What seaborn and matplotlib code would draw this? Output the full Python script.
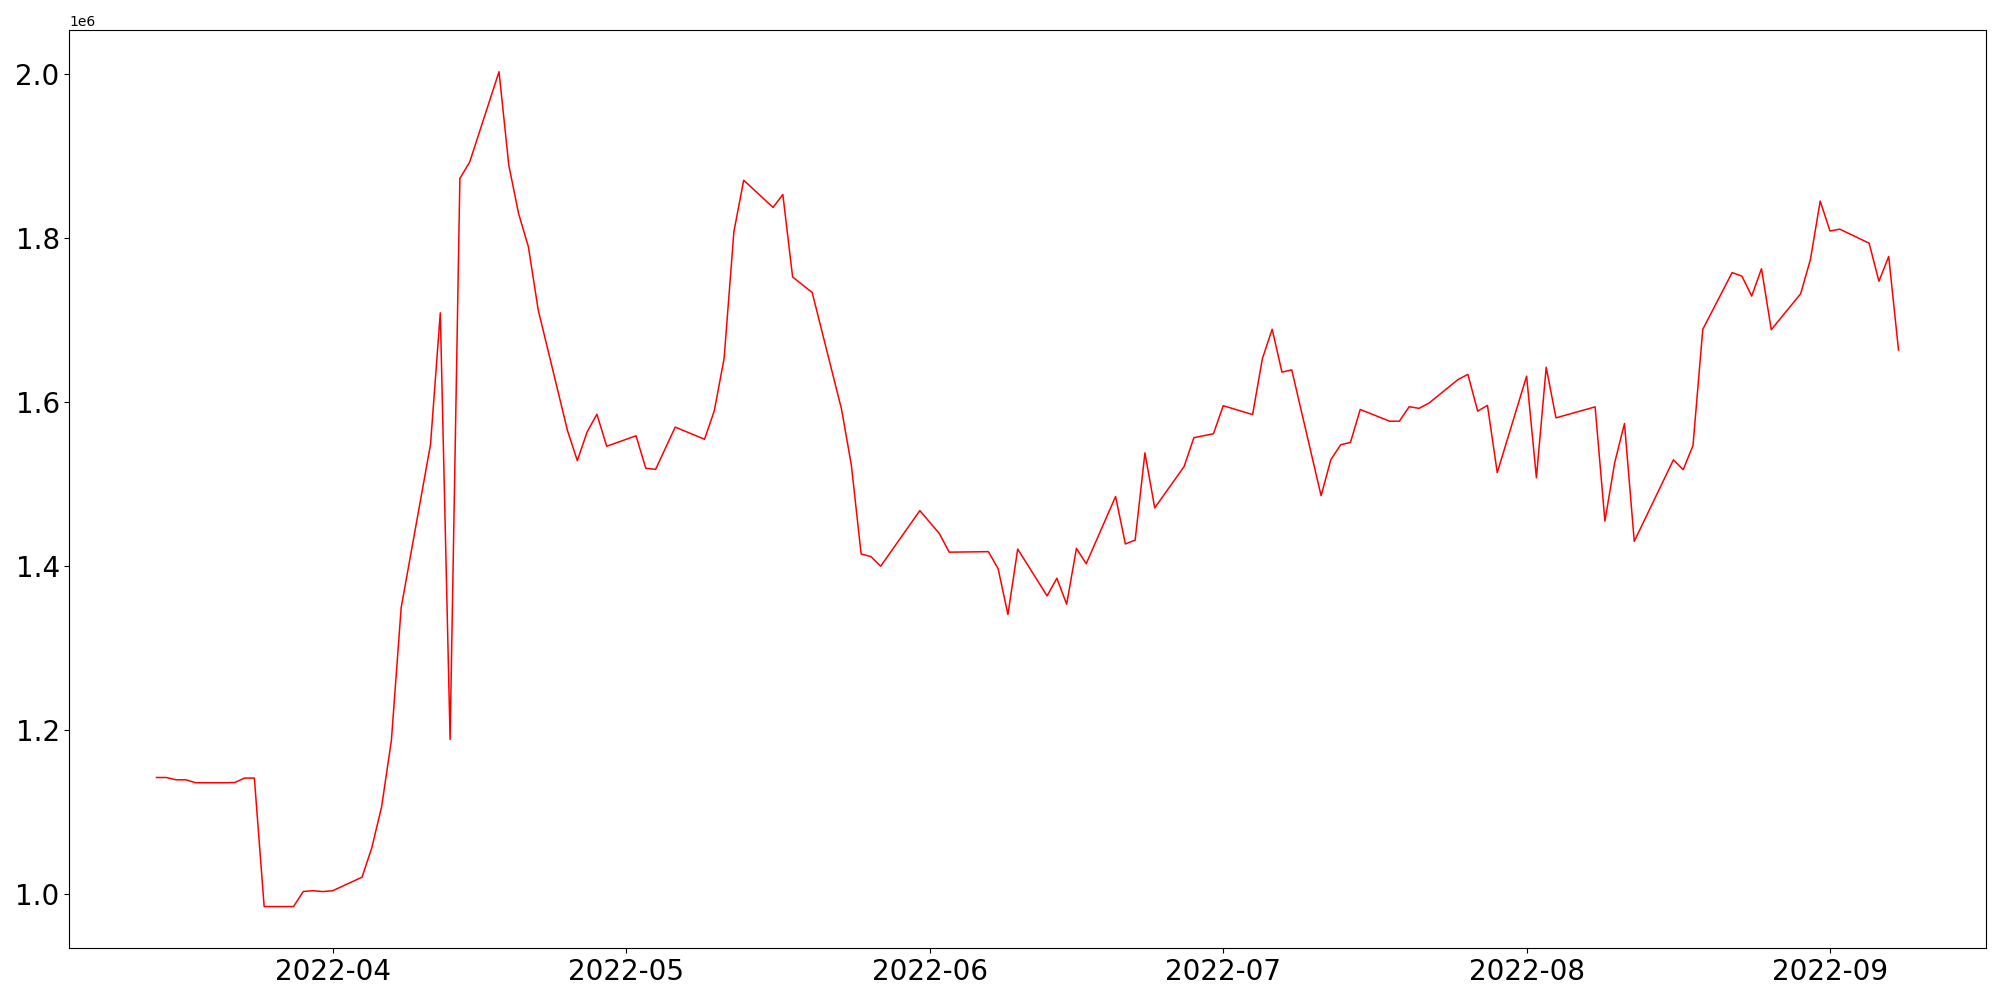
import matplotlib
matplotlib.use("Agg")
import matplotlib.pyplot as plt
import seaborn as sns
import pandas as pd

dates = [
    "2022-03-14", "2022-03-15", "2022-03-16", "2022-03-17", "2022-03-18",
    "2022-03-21", "2022-03-22", "2022-03-23", "2022-03-24", "2022-03-25",
    "2022-03-28", "2022-03-29", "2022-03-30", "2022-03-31", "2022-04-01",
    "2022-04-04", "2022-04-05", "2022-04-06", "2022-04-07", "2022-04-08",
    "2022-04-11", "2022-04-12", "2022-04-13", "2022-04-14", "2022-04-15",
    "2022-04-18", "2022-04-19", "2022-04-20", "2022-04-21", "2022-04-22",
    "2022-04-25", "2022-04-26", "2022-04-27", "2022-04-28", "2022-04-29",
    "2022-05-02", "2022-05-03", "2022-05-04", "2022-05-06",
    "2022-05-09", "2022-05-10", "2022-05-11", "2022-05-12", "2022-05-13",
    "2022-05-16", "2022-05-17", "2022-05-18", "2022-05-20",
    "2022-05-23", "2022-05-24", "2022-05-25", "2022-05-26", "2022-05-27",
    "2022-05-31", "2022-06-02", "2022-06-03",
    "2022-06-07", "2022-06-08", "2022-06-09", "2022-06-10",
    "2022-06-13", "2022-06-14", "2022-06-15", "2022-06-16", "2022-06-17",
    "2022-06-20", "2022-06-21", "2022-06-22", "2022-06-23", "2022-06-24",
    "2022-06-27", "2022-06-28", "2022-06-30", "2022-07-01",
    "2022-07-04", "2022-07-05", "2022-07-06", "2022-07-07", "2022-07-08",
    "2022-07-11", "2022-07-12", "2022-07-13", "2022-07-14", "2022-07-15",
    "2022-07-18", "2022-07-19", "2022-07-20", "2022-07-21", "2022-07-22",
    "2022-07-25", "2022-07-26", "2022-07-27", "2022-07-28", "2022-07-29",
    "2022-08-01", "2022-08-02", "2022-08-03", "2022-08-04",
    "2022-08-08", "2022-08-09", "2022-08-10", "2022-08-11", "2022-08-12",
    "2022-08-16", "2022-08-17", "2022-08-18", "2022-08-19",
    "2022-08-22", "2022-08-23", "2022-08-24", "2022-08-25", "2022-08-26",
    "2022-08-29", "2022-08-30", "2022-08-31", "2022-09-01", "2022-09-02",
    "2022-09-05", "2022-09-06", "2022-09-07", "2022-09-08",
]

values = [
    1142600, 1142600, 1139800, 1139800, 1136200,
    1136200, 1136500, 1141900, 1141900, 985200,
    985200, 1003600, 1004500, 1003500, 1004500,
    1021000, 1056900, 1106700, 1187700, 1349700,
    1548800, 1709300, 1189000, 1873200, 1893100,
    2003300, 1889100, 1830300, 1789800, 1713000,
    1565500, 1529000, 1564000, 1585600, 1546600,
    1559300, 1519700, 1518400, 1569900,
    1555100, 1590000, 1653800, 1808300, 1871000,
    1837800, 1853600, 1753000, 1734000,
    1591600, 1523700, 1415200, 1412000, 1400300,
    1468100, 1440000, 1417400,
    1418000, 1397200, 1341400, 1421200,
    1364100, 1385600, 1354000, 1422000, 1403300,
    1485300, 1427400, 1432100, 1538500, 1471400,
    1521800, 1557000, 1561800, 1596000,
    1585200, 1653300, 1689300, 1637000, 1639700,
    1486300, 1530300, 1548400, 1551200, 1591400,
    1577100, 1577100, 1594800, 1592800, 1599000,
    1628000, 1634200, 1589400, 1596400, 1514400,
    1632000, 1508200, 1642900, 1581200,
    1594600, 1455300, 1526500, 1574300, 1430600,
    1530000, 1518000, 1547400, 1689100,
    1758400, 1754000, 1729700, 1763100, 1688700,
    1732500, 1774300, 1845600, 1809100, 1811300,
    1794200, 1747800, 1778000, 1664000,
]

df = pd.DataFrame({"date": pd.to_datetime(dates), "value": values})

fig, ax = plt.subplots(figsize=(20, 10), dpi=100)
sns.lineplot(data=df, x="date", y="value", color="red", linewidth=1.1, ax=ax)
ax.set_xlabel("")
ax.set_ylabel("")
ax.tick_params(axis="both", labelsize=20)
fig.subplots_adjust(left=0.0347, right=0.9928, bottom=0.0517, top=0.970)
fig.savefig("out.png", dpi=100)
